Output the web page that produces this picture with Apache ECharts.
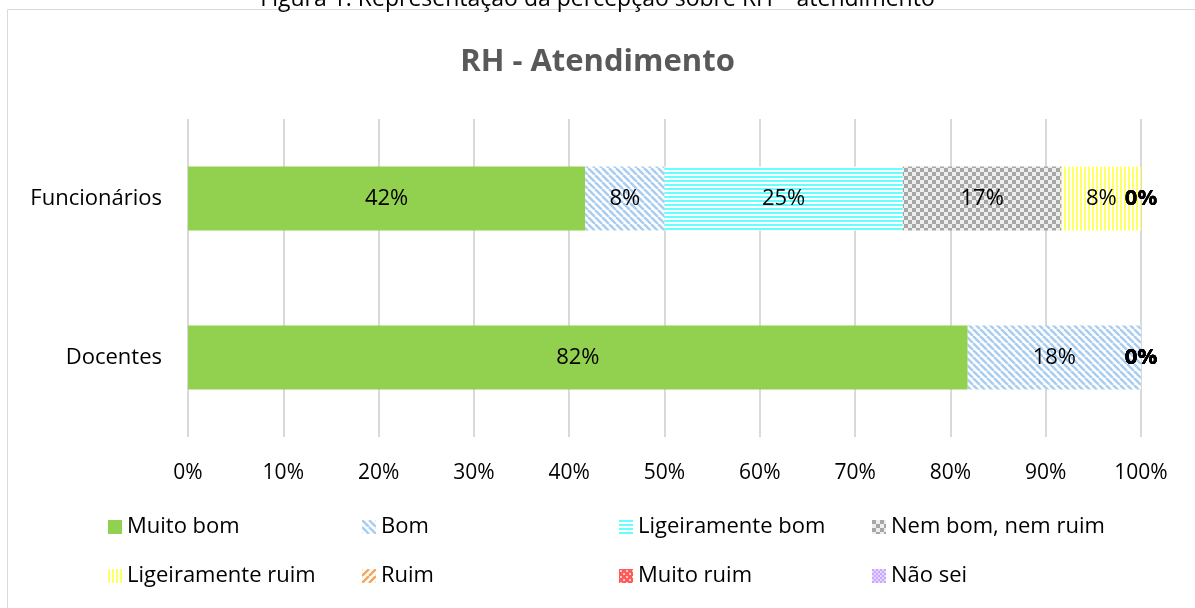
<!DOCTYPE html>
<html>
<head>
<meta charset="utf-8">
<script src="https://cdn.jsdelivr.net/npm/echarts@6/dist/echarts.min.js"></script>
<style>
  html, body { margin: 0; padding: 0; background: #fff; }
  #main { width: 1195px; height: 608px; }
</style>
</head>
<body>
<div id="main"></div>
<script type="text/javascript">
    // data
    var categories = ['Funcionários', 'Docentes'];
    var seriesNames = ['Muito bom', 'Bom', 'Ligeiramente bom', 'Nem bom, nem ruim',
                       'Ligeiramente ruim', 'Ruim', 'Muito ruim', 'Não sei'];
    var muitoBom = [41.67, 81.82];
    var bom = [8.33, 18.18];
    var ligeiramenteBom = [25, 0];
    var nemBomNemRuim = [16.67, 0];
    var ligeiramenteRuim = [8.33, 0];
    var ruim = [0, 0];
    var muitoRuim = [0, 0];
    var naoSei = [0, 0];
    var xTicks = [0, 10, 20, 30, 40, 50, 60, 70, 80, 90, 100];

    var allValues = [muitoBom, bom, ligeiramenteBom, nemBomNemRuim,
                     ligeiramenteRuim, ruim, muitoRuim, naoSei];

    var font = '"Open Sans", sans-serif';

    // little canvas tiles for the excel-like fill patterns
    function tile(w, h, draw) {
        var c = document.createElement('canvas');
        c.width = w; c.height = h;
        var ctx = c.getContext('2d');
        ctx.fillStyle = '#fff';
        ctx.fillRect(0, 0, w, h);
        draw(ctx);
        return { image: c, repeat: 'repeat' };
    }
    function diag(color, dir) {
        return tile(7, 7, function (ctx) {
            ctx.strokeStyle = color;
            ctx.lineWidth = 2.5;
            for (var k = -7; k <= 14; k += 7) {
                ctx.beginPath();
                if (dir > 0) { ctx.moveTo(k, 0); ctx.lineTo(k + 7, 7); }
                else { ctx.moveTo(k, 7); ctx.lineTo(k + 7, 0); }
                ctx.stroke();
            }
        });
    }
    var fills = [
        '#92D050',
        diag('#A9CDF0', 1),
        tile(4, 4, function (ctx) { ctx.fillStyle = '#66FFFF'; ctx.fillRect(0, 0, 4, 2); }),
        tile(8, 8, function (ctx) {
            ctx.fillStyle = '#EEEEEE'; ctx.fillRect(0, 0, 8, 8);
            ctx.fillStyle = '#A6A6A6'; ctx.fillRect(0, 0, 4, 4); ctx.fillRect(4, 4, 4, 4);
        }),
        tile(4, 4, function (ctx) { ctx.fillStyle = '#FFFF66'; ctx.fillRect(0, 0, 2, 4); }),
        diag('#F7A65A', -1),
        tile(6, 6, function (ctx) {
            ctx.fillStyle = '#FF5B5B'; ctx.fillRect(0, 0, 6, 6);
            ctx.fillStyle = '#FFC8C8'; ctx.fillRect(1, 1, 2, 2); ctx.fillRect(4, 4, 2, 2);
        }),
        tile(4, 4, function (ctx) {
            ctx.fillStyle = '#E6D5FF'; ctx.fillRect(0, 0, 4, 4);
            ctx.fillStyle = '#C9A6FF'; ctx.fillRect(0, 0, 2, 2); ctx.fillRect(2, 2, 2, 2);
        })
    ];

    var series = seriesNames.map(function (name, i) {
        return {
            name: name,
            type: 'bar',
            stack: 'total',
            barWidth: 64,
            data: allValues[i],
            itemStyle: { color: fills[i] },
            label: {
                show: true,
                position: 'inside',
                color: '#000',
                fontFamily: font,
                fontSize: 22,
                formatter: function (p) {
                    var v = Math.round(p.value);
                    return v === 0 ? '{z|0%}' : v + '%';
                },
                rich: { z: { fontFamily: font, fontSize: 22, fontWeight: 'bold', color: '#000' } }
            }
        };
    });

    // one legend per item, so the columns line up like the original
    var colX = [103, 357, 614, 867];
    var rowY = [511, 560];
    var legends = seriesNames.map(function (name, i) {
        return {
            data: [name],
            left: colX[i % 4],
            top: rowY[Math.floor(i / 4)],
            itemWidth: 14,
            itemHeight: 14,
            itemGap: 6,
            icon: 'rect',
            selectedMode: false,
            textStyle: { fontFamily: font, fontSize: 22, color: '#000', padding: [0, 0, 0, 0] }
        };
    });

    var myChart = echarts.init(document.getElementById('main'), null, { renderer: 'canvas' });
    myChart.setOption({
        animation: false,
        title: {
            text: 'RH - Atendimento',
            left: 'center',
            top: 42,
            textStyle: { fontFamily: font, fontSize: 31, fontWeight: 'bold', color: '#595959' }
        },
        graphic: [
            {
                type: 'rect',
                shape: { x: 7.5, y: 9.5, width: 1300, height: 700 },
                style: { fill: null, stroke: '#D9D9D9', lineWidth: 1 },
                silent: true
            },
            {
                type: 'text',
                left: 'center',
                top: -12,
                style: {
                    text: 'Figura 1: Representação da percepção sobre RH – atendimento',
                    font: '23px ' + font,
                    fill: '#000'
                },
                silent: true
            }
        ],
        legend: legends,
        grid: { left: 188, right: 54, top: 119, bottom: 171, containLabel: false },
        xAxis: {
            type: 'value',
            min: xTicks[0],
            max: xTicks[xTicks.length - 1],
            interval: xTicks[1] - xTicks[0],
            axisLine: { show: false },
            axisTick: { show: false },
            splitLine: { lineStyle: { color: '#D9D9D9', width: 2 } },
            axisLabel: { fontFamily: font, fontSize: 21, color: '#000', margin: 26, formatter: '{value}%' }
        },
        yAxis: {
            type: 'category',
            inverse: true,
            data: categories,
            axisLine: { show: false },
            axisTick: { show: false },
            axisLabel: { fontFamily: font, fontSize: 22, color: '#000', margin: 26 }
        },
        series: series
    });
</script>
</body>
</html>
